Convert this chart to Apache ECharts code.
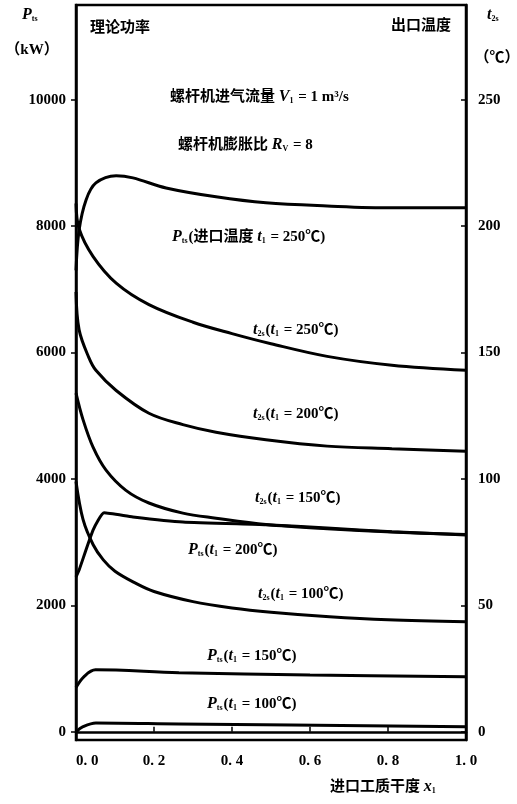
<!DOCTYPE html>
<html>
<head>
<meta charset="utf-8">
<script src="https://cdn.jsdelivr.net/npm/echarts@6/dist/echarts.min.js"></script>
<style>
html, body { margin: 0; padding: 0; background: #fff; }
#chart { width: 517px; height: 804px; }
</style>
</head>
<body>
<div id="chart"></div>
<script>
// x = 进口工质干度 x1
const xTicks = [0, 0.2, 0.4, 0.6, 0.8, 1.0];
const leftTicks = [0, 2000, 4000, 6000, 8000, 10000];
const rightTicks = [0, 50, 100, 150, 200, 250];

// 理论功率 Pts (kW), left axis
const xP250 = [0, 0.008, 0.026, 0.051, 0.103, 0.146, 0.231, 0.359, 0.487, 0.644, 0.81, 1.0];
const pts250 = [7300, 7940, 8420, 8685, 8800, 8765, 8605, 8465, 8370, 8320, 8290, 8290];
const xP200 = [0, 0.008, 0.044, 0.072, 0.146, 0.274, 0.487, 0.644, 0.81, 1.0];
const pts200 = [2450, 2560, 3195, 3465, 3400, 3320, 3275, 3225, 3165, 3115];
const xP150 = [0, 0.02, 0.05, 0.264, 0.6, 1.0];
const pts150 = [700, 870, 980, 935, 900, 870];
const xP100 = [0, 0.018, 0.051, 0.264, 1.0];
const pts100 = [0, 80, 140, 125, 80];

// 出口温度 t2s (℃), right axis
const xT250 = [0, 0.008, 0.044, 0.103, 0.187, 0.3, 0.4, 0.5, 0.644, 0.81, 1.0];
const t2s250 = [209, 199, 188, 177.5, 169, 162, 157.5, 153.5, 148.5, 145, 143];
const xT200 = [0, 0.008, 0.033, 0.051, 0.103, 0.187, 0.274, 0.359, 0.487, 0.644, 0.81, 1.0];
const t2s200 = [174, 159, 148, 143, 135, 126, 121.5, 118.5, 115.5, 113, 112, 111];
const xT150 = [0, 0.018, 0.044, 0.077, 0.128, 0.187, 0.274, 0.359, 0.487, 0.644, 0.81, 1.0];
const t2s150 = [134, 123.5, 112.5, 103.5, 95.5, 90.5, 86.5, 84.5, 82, 80.3, 79, 78];
const xT100 = [0, 0.018, 0.044, 0.07, 0.1, 0.15, 0.2, 0.3, 0.4, 0.5, 0.65, 0.8, 1.0];
const t2s100 = [99, 84, 74, 68, 63.5, 59, 55.5, 51.5, 49, 47.3, 45.5, 44.3, 43.5];

const F = "'Liberation Serif', 'Noto Sans CJK SC', serif";
const zip = (xs, ys) => xs.map((x, i) => [x, ys[i]]);

const rich = {
    n: { fontSize: 15, fontWeight: 'bold', fontFamily: F, fill: '#000' },
    i: { fontSize: 16, fontStyle: 'italic', fontWeight: 'bold', fontFamily: F, fill: '#000' },
    s: { fontSize: 8, fontWeight: 'bold', fontFamily: F, fill: '#000', verticalAlign: 'bottom', padding: [6, 1, 0, 0] }
};

function txt(x, y, text, align) {
    return {
        type: 'text', x: x, y: y,
        style: { text: text, rich: rich, align: align || 'left', verticalAlign: 'middle', fill: '#000' }
    };
}

function line(name, yIndex, xs, ys, sm) {
    return {
        name: name, type: 'line', yAxisIndex: yIndex,
        data: zip(xs, ys),
        smooth: sm, showSymbol: false, silent: true,
        lineStyle: { color: '#000', width: 3 }
    };
}

const chart = echarts.init(document.getElementById('chart'));
chart.setOption({
    backgroundColor: '#fff',
    animation: false,
    grid: { left: 76, right: 51, top: 5, bottom: 64, show: true, borderColor: '#000', borderWidth: 2.5 },
    xAxis: {
        type: 'value', min: 0, max: 1, interval: 0.2,
        axisLine: { lineStyle: { color: '#000', width: 2.5 } },
        axisTick: { inside: true, length: 5, lineStyle: { color: '#000', width: 1.5 } },
        splitLine: { show: false },
        axisLabel: {
            margin: 14, color: '#000', fontSize: 15, fontWeight: 'bold', fontFamily: F,
            alignMinLabel: 'left',
            formatter: v => v.toFixed(1).replace('.', '. ')
        }
    },
    yAxis: [
        {
            type: 'value', position: 'left', min: -130, max: 11500,
            axisLine: { show: true, lineStyle: { color: '#000', width: 2.5 } },
            axisTick: { show: true, length: 5, customValues: leftTicks, lineStyle: { color: '#000', width: 1.5 } },
            axisLabel: {
                customValues: leftTicks, margin: 10, color: '#000', fontSize: 15, fontWeight: 'bold', fontFamily: F,
                formatter: v => String(v)
            },
            splitLine: { show: false }
        },
        {
            type: 'value', position: 'right', min: -3.25, max: 287.5,
            axisLine: { show: true, lineStyle: { color: '#000', width: 2.5 } },
            axisTick: { show: true, inside: true, length: 5, customValues: rightTicks, lineStyle: { color: '#000', width: 1.5 } },
            axisLabel: {
                customValues: rightTicks, margin: 12, color: '#000', fontSize: 15, fontWeight: 'bold', fontFamily: F,
                formatter: v => String(v)
            },
            splitLine: { show: false }
        }
    ],
    series: [
        line('Pts 250', 0, xP250, pts250, 0.35),
        line('Pts 200', 0, xP200, pts200, 0.15),
        line('Pts 150', 0, xP150, pts150, 0.35),
        line('Pts 100', 0, xP100, pts100, 0.35),
        line('t2s 250', 1, xT250, t2s250, 0.35),
        line('t2s 200', 1, xT200, t2s200, 0.35),
        line('t2s 150', 1, xT150, t2s150, 0.35),
        line('t2s 100', 1, xT100, t2s100, 0.35)
    ],
    graphic: [
        txt(22, 15, '{i|P}{s|ts}'),
        txt(32, 50, '{n|（kW）}', 'center'),
        txt(90, 28, '{n|理论功率}'),
        txt(451, 26, '{n|出口温度}', 'right'),
        txt(487, 15, '{i|t}{s|2s}'),
        txt(497, 58, '{n|（℃）}', 'center'),
        txt(170, 97, '{n|螺杆机进气流量 }{i|V}{s|1}{n| = 1 m³/s}'),
        txt(178, 145, '{n|螺杆机膨胀比 }{i|R}{s|V}{n| = 8}'),
        txt(172, 237, '{i|P}{s|ts}{n|(进口温度 }{i|t}{s|1}{n| = 250℃)}'),
        txt(253, 330, '{i|t}{s|2s}{n|(}{i|t}{s|1}{n| = 250℃)}'),
        txt(253, 414, '{i|t}{s|2s}{n|(}{i|t}{s|1}{n| = 200℃)}'),
        txt(255, 498, '{i|t}{s|2s}{n|(}{i|t}{s|1}{n| = 150℃)}'),
        txt(188, 550, '{i|P}{s|ts}{n|(}{i|t}{s|1}{n| = 200℃)}'),
        txt(258, 594, '{i|t}{s|2s}{n|(}{i|t}{s|1}{n| = 100℃)}'),
        txt(207, 656, '{i|P}{s|ts}{n|(}{i|t}{s|1}{n| = 150℃)}'),
        txt(207, 704, '{i|P}{s|ts}{n|(}{i|t}{s|1}{n| = 100℃)}'),
        txt(330, 787, '{n|进口工质干度 }{i|x}{s|1}')
    ]
});
</script>
</body>
</html>
